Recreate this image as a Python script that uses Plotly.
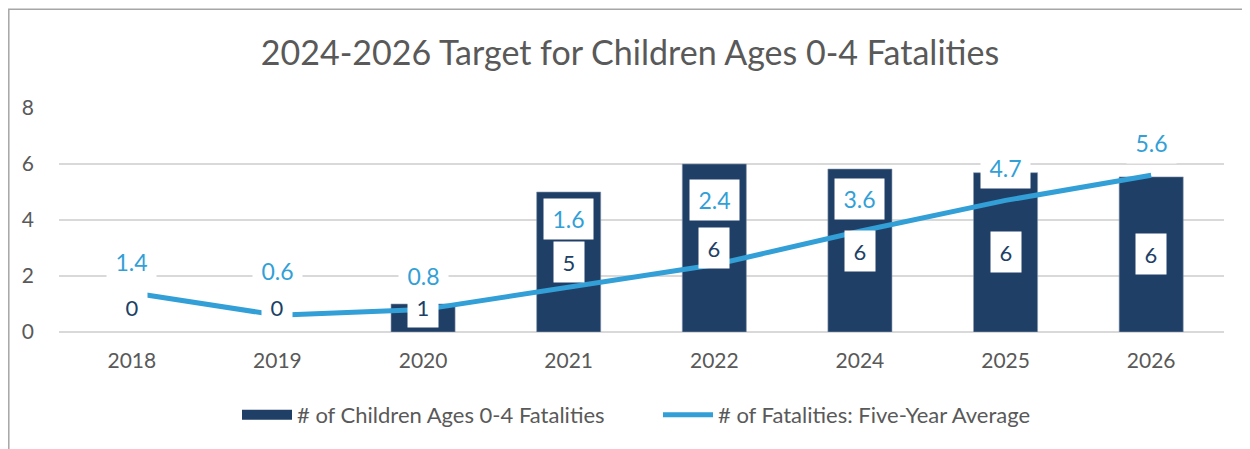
import plotly.graph_objects as go

years = ["2018", "2019", "2020", "2021", "2022", "2024", "2025", "2026"]
fatalities = [0, 0, 1, 5, 6, 5.82, 5.69, 5.54]
fatality_labels = ["0", "0", "1", "5", "6", "6", "6", "6"]
five_year_avg = [1.4, 0.6, 0.8, 1.6, 2.4, 3.6, 4.7, 5.6]
avg_labels = ["1.4", "0.6", "0.8", "1.6", "2.4", "3.6", "4.7", "5.6"]

# pixel offsets of the average labels above their points (layout only)
avg_label_shift = [31, 44, 34, 68, 65, 32, 32, 32]

BAR = "#203f66"
LINE = "#329fd7"
GREY = "#595959"
FONT = "Lato, Open Sans, sans-serif"
BAR_NAME = "# of Children Ages 0-4 Fatalities"
LINE_NAME = "# of Fatalities: Five-Year Average"

fig = go.Figure()
fig.add_trace(go.Bar(
    x=years, y=fatalities, name=BAR_NAME, showlegend=False,
    marker=dict(color=BAR, line=dict(color="#8a9bb0",
                                     width=[0.6 if v > 0 else 0 for v in fatalities])),
    hoverinfo="skip",
))
# legend swatch for the bars (wide rectangle, as in the original legend)
fig.add_trace(go.Scatter(
    x=[years[0]], y=[None], name=BAR_NAME, mode="lines",
    line=dict(color=BAR, width=14), hoverinfo="skip",
))
fig.add_trace(go.Scatter(
    x=years, y=five_year_avg, name=LINE_NAME,
    mode="lines", line=dict(color=LINE, width=5),
    hoverinfo="skip",
))

annotations = []
for i, (v, t) in enumerate(zip(fatalities, fatality_labels)):
    annotations.append(dict(
        x=i, y=max(v / 2, 0.9), text=t, showarrow=False,
        font=dict(family=FONT, size=22, color=BAR),
        bgcolor="white", width=28, height=38, yanchor="middle",
    ))
for i, (v, t, s) in enumerate(zip(five_year_avg, avg_labels, avg_label_shift)):
    annotations.append(dict(
        x=i, y=v, text=t, showarrow=False, yshift=s,
        font=dict(family=FONT, size=23, color=LINE),
        bgcolor="white", width=47, height=38, yanchor="middle",
    ))

# page has an 8px body margin; coordinates below are figure coordinates
W, H = 1242, 441
L, T = 51, 100
R = W - 1216
B = H - 324
pw, ph = W - L - R, H - T - B

fig.update_layout(
    width=W, height=H,
    margin=dict(l=L, r=R, t=T, b=B),
    paper_bgcolor="white", plot_bgcolor="white",
    title=dict(text="2024-2026 Target for Children Ages 0-4 Fatalities",
               x=622 / W, xanchor="center", y=1 - 45 / H, yanchor="middle",
               font=dict(family=FONT, size=34, color=GREY)),
    font=dict(family=FONT, color=GREY),
    bargap=0.56,
    showlegend=True,
    legend=dict(orientation="h", x=(229 - L) / pw, xanchor="left",
                y=(324 - 407) / ph, yanchor="middle",
                font=dict(family=FONT, size=22, color=GREY),
                itemwidth=50, entrywidth=356),
    xaxis=dict(type="category", range=[-0.5, len(years) - 0.5],
               showgrid=False, showline=False, ticks="",
               ticklabelstandoff=14,
               tickfont=dict(family=FONT, size=21, color=GREY)),
    yaxis=dict(range=[0, 8], dtick=2, showgrid=True, gridcolor="#d9d9d9",
               gridwidth=1.5, zeroline=True, zerolinecolor="#d9d9d9",
               zerolinewidth=1.5, ticks="", ticklabelstandoff=24,
               tickfont=dict(family=FONT, size=21, color=GREY)),
    annotations=annotations,
    shapes=[dict(type="rect", xref="paper", yref="paper",
                 x0=(-L + 0.8) / pw, x1=(W + 20 - L) / pw,
                 y0=-(B + 20) / ph, y1=1 + (T - 1.2) / ph,
                 line=dict(color="#a6a6a6", width=1.5), layer="below")],
)

fig.write_html("out.html")
